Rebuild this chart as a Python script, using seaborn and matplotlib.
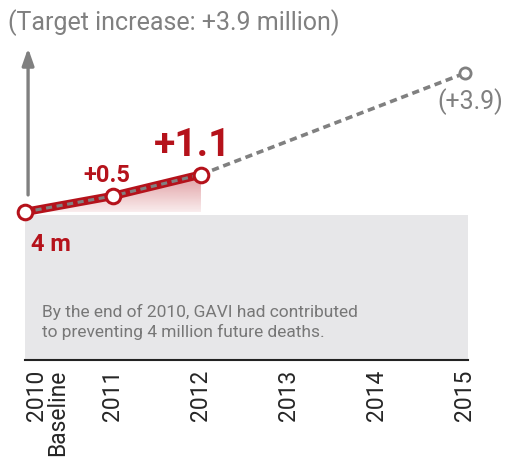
import numpy as np
import pandas as pd
import matplotlib.pyplot as plt
import matplotlib.patches as mpatches
import matplotlib.transforms as mtransforms
from matplotlib.colors import to_rgb
import seaborn as sns

# values (cumulative increase over 2010 baseline, millions)
years = [0, 1, 2, 5]
increase = [0.0, 0.45, 1.05, 3.9]
point_labels = ['', '+0.5', '+1.1', '(+3.9)']
tick_labels = ['2010\nBaseline', '2011', '2012', '2013', '2014', '2015']

red = '#b5121b'
grey = '#808080'
box = '#e7e7e9'

sns.set_style('white')
plt.rcParams['font.family'] = ['Roboto', 'DejaVu Sans']

fig = plt.figure(figsize=(5.08, 4.6), dpi=100)
ax = fig.add_axes([25 / 508, 1 - 361 / 460, 443 / 508, 331 / 460])
ax.set_xlim(0, 5.035)
ax.set_ylim(-4.16, 5.14)

df = pd.DataFrame({'year': years, 'inc': increase})
actual = df.iloc[:3]

# grey background box
ax.add_patch(mpatches.Rectangle((0, -4.16), 5.035, 4.07, color=box, zorder=0, lw=0))

# red gradient under achieved part
poly = mpatches.Polygon([(0, 0), (1, 0.45), (2, 1.05), (2, 0)], closed=True,
                        facecolor='none', edgecolor='none')
ax.add_patch(poly)
rgba = np.zeros((100, 1, 4))
rgba[:, 0, :3] = to_rgb(red)
rgba[:, 0, 3] = np.linspace(0.08, 0.42, 100)
img = ax.imshow(rgba, extent=(0, 2, 0, 1.05), origin='lower', aspect='auto', zorder=1)
img.set_clip_path(poly)

# lines
sns.lineplot(data=actual, x='year', y='inc', color=red, lw=6, ax=ax, zorder=2)
sns.lineplot(data=df.iloc[2:], x='year', y='inc', color=grey, lw=2.6,
             ls=(0, (2, 1.3)), ax=ax, zorder=3)
ax.plot(actual['year'], actual['inc'], color=grey, lw=2.2, ls=(0, (2, 1.5)), zorder=3)
ax.scatter(actual['year'], actual['inc'], s=110, facecolor='white',
           edgecolor=red, linewidth=2.2, zorder=4, clip_on=False)
ax.scatter([years[3]], [increase[3]], s=65, facecolor='white',
           edgecolor=grey, linewidth=2, zorder=4, clip_on=False)

# labels
ax.text(0.93, 0.87, point_labels[1], color=red, fontsize=17, fontweight='bold', ha='center')
ax.text(1.9, 1.6, point_labels[2], color=red, fontsize=28, fontweight='bold', ha='center')
ax.text(5.06, 2.92, point_labels[3], color=grey, fontsize=18, ha='center')
ax.text(0.07, -0.88, '4 m', color=red, fontsize=17, fontweight='bold', va='center')
ax.text(0.19, -3.06, 'By the end of 2010, GAVI had contributed\nto preventing 4 million future deaths.',
        color='#777777', fontsize=12.5, va='center', linespacing=1.3)

# y arrow
ax.annotate('', xy=(0.035, 4.68), xytext=(0.035, 0.4),
            arrowprops=dict(arrowstyle='-|>,head_length=1.0,head_width=0.35',
                            color=grey, lw=2.4), annotation_clip=False)

fig.text(8 / 508, 1 - 23 / 460, '(Target increase: +3.9 million)', color=grey,
         fontsize=18, va='center')

ax.set_xticks(range(6))
ax.set_xticklabels(tick_labels, rotation=90, fontsize=16.5, va='top', linespacing=0.9)
first = ax.get_xticklabels()[0]
first.set_ha('left')
first.set_multialignment('right')
first.set_transform(first.get_transform() + mtransforms.ScaledTranslation(-6 / 100, 0, fig.dpi_scale_trans))
ax.set_yticks([])
ax.set_xlabel('')
ax.set_ylabel('')
for s in ['top', 'right', 'left']:
    ax.spines[s].set_visible(False)
ax.spines['bottom'].set_color('#222222')
ax.spines['bottom'].set_linewidth(1.5)
ax.tick_params(axis='x', length=0, pad=6)

fig.savefig('out.png', dpi=100)
